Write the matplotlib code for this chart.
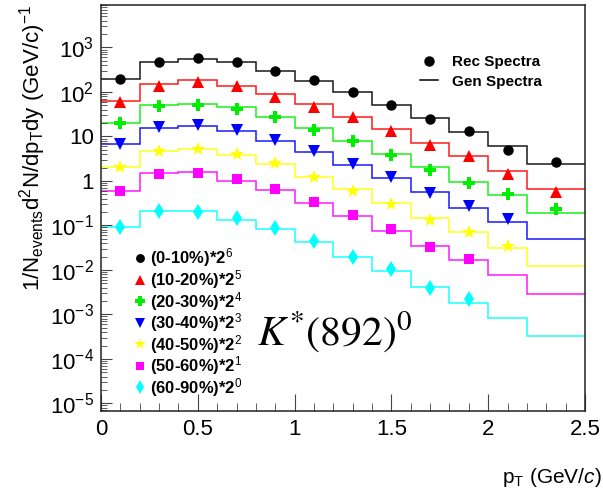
import math
import matplotlib
matplotlib.use("Agg")
import matplotlib.pyplot as plt
from matplotlib.lines import Line2D
from matplotlib.ticker import FixedLocator, FuncFormatter, LogLocator, MultipleLocator

plt.rcParams['font.family'] = ['Liberation Sans', 'DejaVu Sans']
plt.rcParams['mathtext.fontset'] = 'custom'
plt.rcParams['mathtext.rm'] = 'Liberation Sans'
plt.rcParams['mathtext.it'] = 'Liberation Sans:italic'
plt.rcParams['mathtext.bf'] = 'Liberation Sans:bold'

# pT binning
edges = [0.0, 0.2, 0.4, 0.6, 0.8, 1.0, 1.2, 1.4, 1.6, 1.8, 2.0, 2.2, 2.5]
centers = [0.1, 0.3, 0.5, 0.7, 0.9, 1.1, 1.3, 1.5, 1.7, 1.9, 2.1, 2.35]

labels = ["(0-10%)*2$^{6}$", "(10-20%)*2$^{5}$", "(20-30%)*2$^{4}$", "(30-40%)*2$^{3}$",
          "(40-50%)*2$^{2}$", "(50-60%)*2$^{1}$", "(60-90%)*2$^{0}$"]
colors = ['#000000', '#ff0000', '#00ee00', '#0000ff', '#ffff00', '#ff00ff', '#00ffff']
markers = ['o', '^', 'P', 'v', '*', 's', 'd']
msizes = [7.5, 8, 8.5, 8, 10.5, 7.5, 8.5]

# generated spectra (histograms)
gen_0_10 = [196, 480, 552, 465, 301, 177, 102, 50, 26.4, 12.8, 6.1, 2.4]
gen_10_20 = [63, 149, 183, 139, 89, 53, 27.9, 14.8, 7.3, 3.65, 1.65, 0.66]
gen_20_30 = [20.4, 50, 54, 45, 27.9, 15.8, 8.05, 4.05, 2.1, 0.96, 0.48, 0.19]
gen_30_40 = [6.8, 15.8, 17.5, 13.3, 7.9, 4.55, 2.32, 1.15, 0.56, 0.25, 0.122, 0.050]
gen_40_50 = [2.1, 4.8, 5.2, 3.8, 2.4, 1.21, 0.65, 0.315, 0.150, 0.070, 0.031, 0.0123]
gen_50_60 = [0.605, 1.49, 1.57, 1.02, 0.63, 0.325, 0.163, 0.076, 0.035, 0.0168, 0.0077, 0.00284]
gen_60_90 = [0.091, 0.215, 0.215, 0.133, 0.082, 0.042, 0.0199, 0.0095, 0.0042, 0.00184, 0.00085, 0.00033]

# reconstructed spectra (points)
rec_0_10 = [195, 480, 590, 470, 300, 186, 98, 50, 25, 13, 5.0, 2.7]
rec_10_20 = [60, 135, 165, 135, 78, 47, 27, 13, 6.6, 3.6, 1.4, 0.57]
rec_20_30 = [20.4, 49, 51, 41.5, 27.8, 14, 7.9, 3.8, 1.8, 0.89, 0.51, 0.235]
rec_30_40 = [6.8, 16.3, 17.9, 14, 8.4, 4.6, 2.4, 1.25, 0.55, 0.27, 0.138]
rec_40_50 = [2.1, 4.8, 5.25, 4.1, 2.5, 1.25, 0.60, 0.30, 0.13, 0.070, 0.035]
rec_50_60 = [0.60, 1.42, 1.48, 1.1, 0.66, 0.34, 0.17, 0.083, 0.033, 0.018]
rec_60_90 = [0.094, 0.21, 0.20, 0.15, 0.087, 0.044, 0.020, 0.0104, 0.0039, 0.0022]

gen = [gen_0_10, gen_10_20, gen_20_30, gen_30_40, gen_40_50, gen_50_60, gen_60_90]
rec = [rec_0_10, rec_10_20, rec_20_30, rec_30_40, rec_40_50, rec_50_60, rec_60_90]

fig = plt.figure(figsize=(6.03, 4.94), dpi=100)
ax = fig.add_axes([101/603, 83/494, 484/603, 406/494])

handles = []
for i in range(len(gen)):
    ax.stairs(gen[i], edges, baseline=None, color=colors[i], lw=1.1, alpha=0.9)
    h, = ax.plot(centers[:len(rec[i])], rec[i], linestyle='none', marker=markers[i],
                 color=colors[i], ms=msizes[i], mew=0, label=labels[i])
    handles.append(h)

ax.set_yscale('log')
ax.set_xlim(0, 2.5)
ax.set_ylim(10**-5.17, 10**3.955)

# ROOT-like axes
ax.xaxis.set_major_locator(MultipleLocator(0.5))
ax.xaxis.set_minor_locator(MultipleLocator(0.1))
ax.yaxis.set_major_locator(FixedLocator([10.0**k for k in range(-5, 4)]))
ax.yaxis.set_minor_locator(LogLocator(base=10, subs=range(2, 10), numticks=30))


def ylab(v, pos):
    if v == 1:
        return "1"
    if v == 10:
        return "10"
    return "$10^{%d}$" % round(math.log10(v))


ax.yaxis.set_major_formatter(FuncFormatter(ylab))
ax.xaxis.set_major_formatter(FuncFormatter(lambda v, p: "%g" % v))
ax.tick_params(which='both', direction='in', top=False, right=False, labelsize=16, color='#444444')
ax.tick_params(axis='x', which='major', length=12, pad=6)
ax.tick_params(axis='x', which='minor', length=6)
ax.tick_params(axis='y', which='major', length=8, pad=5)
ax.tick_params(axis='y', which='minor', length=4.5)
for s in ax.spines.values():
    s.set_color('#222222')
    s.set_linewidth(1.1)

ax.set_ylabel(r"1/N$_{\rm events}$d$^{2}$N/dp$_{\rm T}$dy (GeV/c)$^{-1}$", fontsize=16, loc='top')
ax.yaxis.set_label_coords(-0.11, 1.0)
ax.set_xlabel(r"p$_{\rm T}$ (GeV/$c$)", fontsize=15, loc='right')
ax.xaxis.set_label_coords(1.035, -0.135)

leg1 = ax.legend(handles=handles, loc='upper left', bbox_to_anchor=(0.063, 0.405),
                 frameon=False, prop={'weight': 'bold', 'size': 12}, numpoints=1,
                 handlelength=1.0, handletextpad=0.1, labelspacing=-0.08,
                 borderpad=0, borderaxespad=0, markerscale=0.85)
ax.add_artist(leg1)

rg = [Line2D([], [], color='black', marker='o', ms=6.5, linestyle='none'),
      Line2D([], [], color='black', lw=1.1)]
ax.legend(handles=rg, labels=['Rec Spectra', 'Gen Spectra'], loc='upper left',
          bbox_to_anchor=(0.659, 0.876), frameon=False, prop={'weight': 'bold', 'size': 11},
          numpoints=1, handlelength=1.2, handletextpad=0.9, labelspacing=0.35,
          borderpad=0, borderaxespad=0)

ax.text(0.322, 0.162, r"$K^{*}(892)^{0}$", transform=ax.transAxes, fontsize=30,
        math_fontfamily='stix', va='baseline', ha='left')

fig.savefig("out.png", dpi=100)
